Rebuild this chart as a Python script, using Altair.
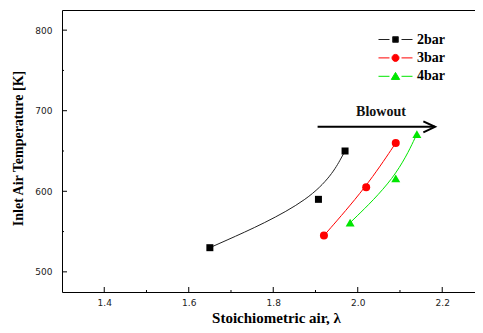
import altair as alt
import pandas as pd

# ---- data ----
series_names = ["2bar", "3bar", "4bar"]
lam_2bar = [1.65, 1.907, 1.97]
temp_2bar = [530, 590, 650]
lam_3bar = [1.92, 2.02, 2.09]
temp_3bar = [545, 605, 660]
lam_4bar = [1.982, 2.09, 2.14]
temp_4bar = [561, 616, 671]

x_major = [1.4, 1.6, 1.8, 2.0, 2.2]
x_minor = [1.5, 1.7, 1.9, 2.1]
y_major = [500, 600, 700, 800]
y_minor = [550, 650, 750]

arrow_lam = [1.905, 2.183]
arrow_temp = 680
note_text = "Blowout"
note_lam = 2.055
note_temp = 698

# ---- styles ----
line_colors = ["#222222", "#ff0000", "#00e600"]
point_colors = ["#000000", "#ff0000", "#00e600"]
point_shapes = ["square", "circle", "triangle-up"]
point_sizes = [49, 64, 80]
legend_paths = [
    "M-2.43,0H-0.86M0.86,0H2.43M-0.4,-0.4H0.4V0.4H-0.4Z",
    "M-2.43,0H-0.86M0.86,0H2.43M-0.5,0A0.5,0.5,0,1,0,0.5,0A0.5,0.5,0,1,0,-0.5,0Z",
    "M-2.43,0H-0.86M0.86,0H2.43M0,-0.55L0.6,0.45L-0.6,0.45Z",
]
serif = "Liberation Serif"

lams = [lam_2bar, lam_3bar, lam_4bar]
temps = [temp_2bar, temp_3bar, temp_4bar]
rows = []
for name, ls, ts in zip(series_names, lams, temps):
    for l, t in zip(ls, ts):
        rows.append({"series": name, "lam": l, "T": t})
df = pd.DataFrame(rows)

xs = alt.Scale(domain=[1.3, 2.2965], nice=False, zero=False)
ys = alt.Scale(domain=[475, 825], nice=False, zero=False)

x_axis = alt.Axis(values=x_major, format=".1f", labelPadding=6,
                  title="Stoichiometric air, λ", titleFontSize=15,
                  titleX=214, titleY=30, titleBaseline="alphabetic")
y_axis = alt.Axis(values=y_major, format="d", labelPadding=10,
                  title="Inlet Air Temperature [K]", titleFontSize=14,
                  titleX=-44, titleY=138, titleAngle=270, titleBaseline="middle",
                  titleAlign="center")

X = alt.X("lam:Q", scale=xs, axis=x_axis, title="Stoichiometric air, λ")
Y = alt.Y("T:Q", scale=ys, axis=y_axis, title="Inlet Air Temperature [K]")

base = alt.Chart(df)
layers = []
for i, name in enumerate(series_names):
    layers.append(
        base.transform_filter(alt.datum.series == name)
        .mark_line(interpolate="basis", color=line_colors[i], strokeWidth=1)
        .encode(x=X, y=Y)
    )
for i, name in enumerate(series_names):
    layers.append(
        base.transform_filter(alt.datum.series == name)
        .mark_point(shape=point_shapes[i], filled=True, color=point_colors[i],
                    size=point_sizes[i], opacity=1)
        .encode(x=X, y=Y)
    )

# inward tick marks
xt = alt.Chart(pd.DataFrame({"lam": x_major}))
xm = alt.Chart(pd.DataFrame({"lam": x_minor}))
yt = alt.Chart(pd.DataFrame({"T": y_major}))
ym = alt.Chart(pd.DataFrame({"T": y_minor}))
px_y = 350 / 282.0
px_x = (2.2965 - 1.3) / 421.0
layers.append(xt.mark_rule(color="black", strokeWidth=1).encode(
    x=X, y=alt.datum(475), y2=alt.datum(475 + 5 * px_y)))
layers.append(xm.mark_rule(color="black", strokeWidth=1).encode(
    x=X, y=alt.datum(475), y2=alt.datum(475 + 2 * px_y)))
layers.append(yt.mark_rule(color="black", strokeWidth=1).encode(
    y=Y, x=alt.datum(1.3), x2=alt.datum(1.3 + 5 * px_x)))
layers.append(ym.mark_rule(color="black", strokeWidth=1).encode(
    y=Y, x=alt.datum(1.3), x2=alt.datum(1.3 + 2 * px_x)))

# blowout arrow
arrow_df = pd.DataFrame({"lam": [arrow_lam[0]], "lam2": [arrow_lam[1]], "T": [arrow_temp]})
layers.append(alt.Chart(arrow_df).mark_rule(color="black", strokeWidth=2).encode(
    x=X, x2="lam2:Q", y=Y))
head_df = pd.DataFrame({"lam": [arrow_lam[1]], "T": [arrow_temp]})
layers.append(alt.Chart(head_df).mark_point(
    shape="M-1,-0.47L0,0L-1,0.47", filled=False, color="black",
    strokeWidth=2, size=548, opacity=1).encode(x=X, y=Y))
note_df = pd.DataFrame({"lam": [note_lam], "T": [note_temp], "txt": [note_text]})
layers.append(alt.Chart(note_df).mark_text(
    font=serif, fontWeight="bold", fontSize=14, color="#111111",
    align="center", baseline="middle").encode(x=X, y=Y, text="txt:N"))

# legend
leg = alt.Legend(title=None, orient="none", legendX=326, legendY=22,
                 symbolSize=196, symbolStrokeWidth=1, symbolOpacity=1,
                 labelFont=serif, labelFontWeight="bold", labelFontSize=14,
                 labelColor="black", labelOffset=14, rowPadding=3.4, padding=0)
layers.append(
    base.transform_filter("false").mark_point(filled=False, opacity=1, size=196).encode(
        x=X, y=Y,
        stroke=alt.Stroke("series:N", scale=alt.Scale(domain=series_names, range=line_colors), legend=leg),
        fill=alt.Fill("series:N", scale=alt.Scale(domain=series_names, range=point_colors), legend=leg),
        shape=alt.Shape("series:N", scale=alt.Scale(domain=series_names, range=legend_paths), legend=leg),
    )
)

chart = alt.layer(*layers).properties(
    width=421, height=282,
    padding={"left": 54, "top": 2, "right": -8, "bottom": 33},
    autosize=alt.AutoSizeParams(type="none"),
    background="white",
).configure_view(stroke="black", strokeWidth=1).configure_axis(
    labelFont="DejaVu Sans", labelFontSize=9, labelColor="#222222",
    titleFont=serif, titleFontWeight="bold", titleColor="black",
    ticks=False, domain=False, grid=False,
)

chart.save("out.html", embed_options={"renderer": "svg", "actions": False})
